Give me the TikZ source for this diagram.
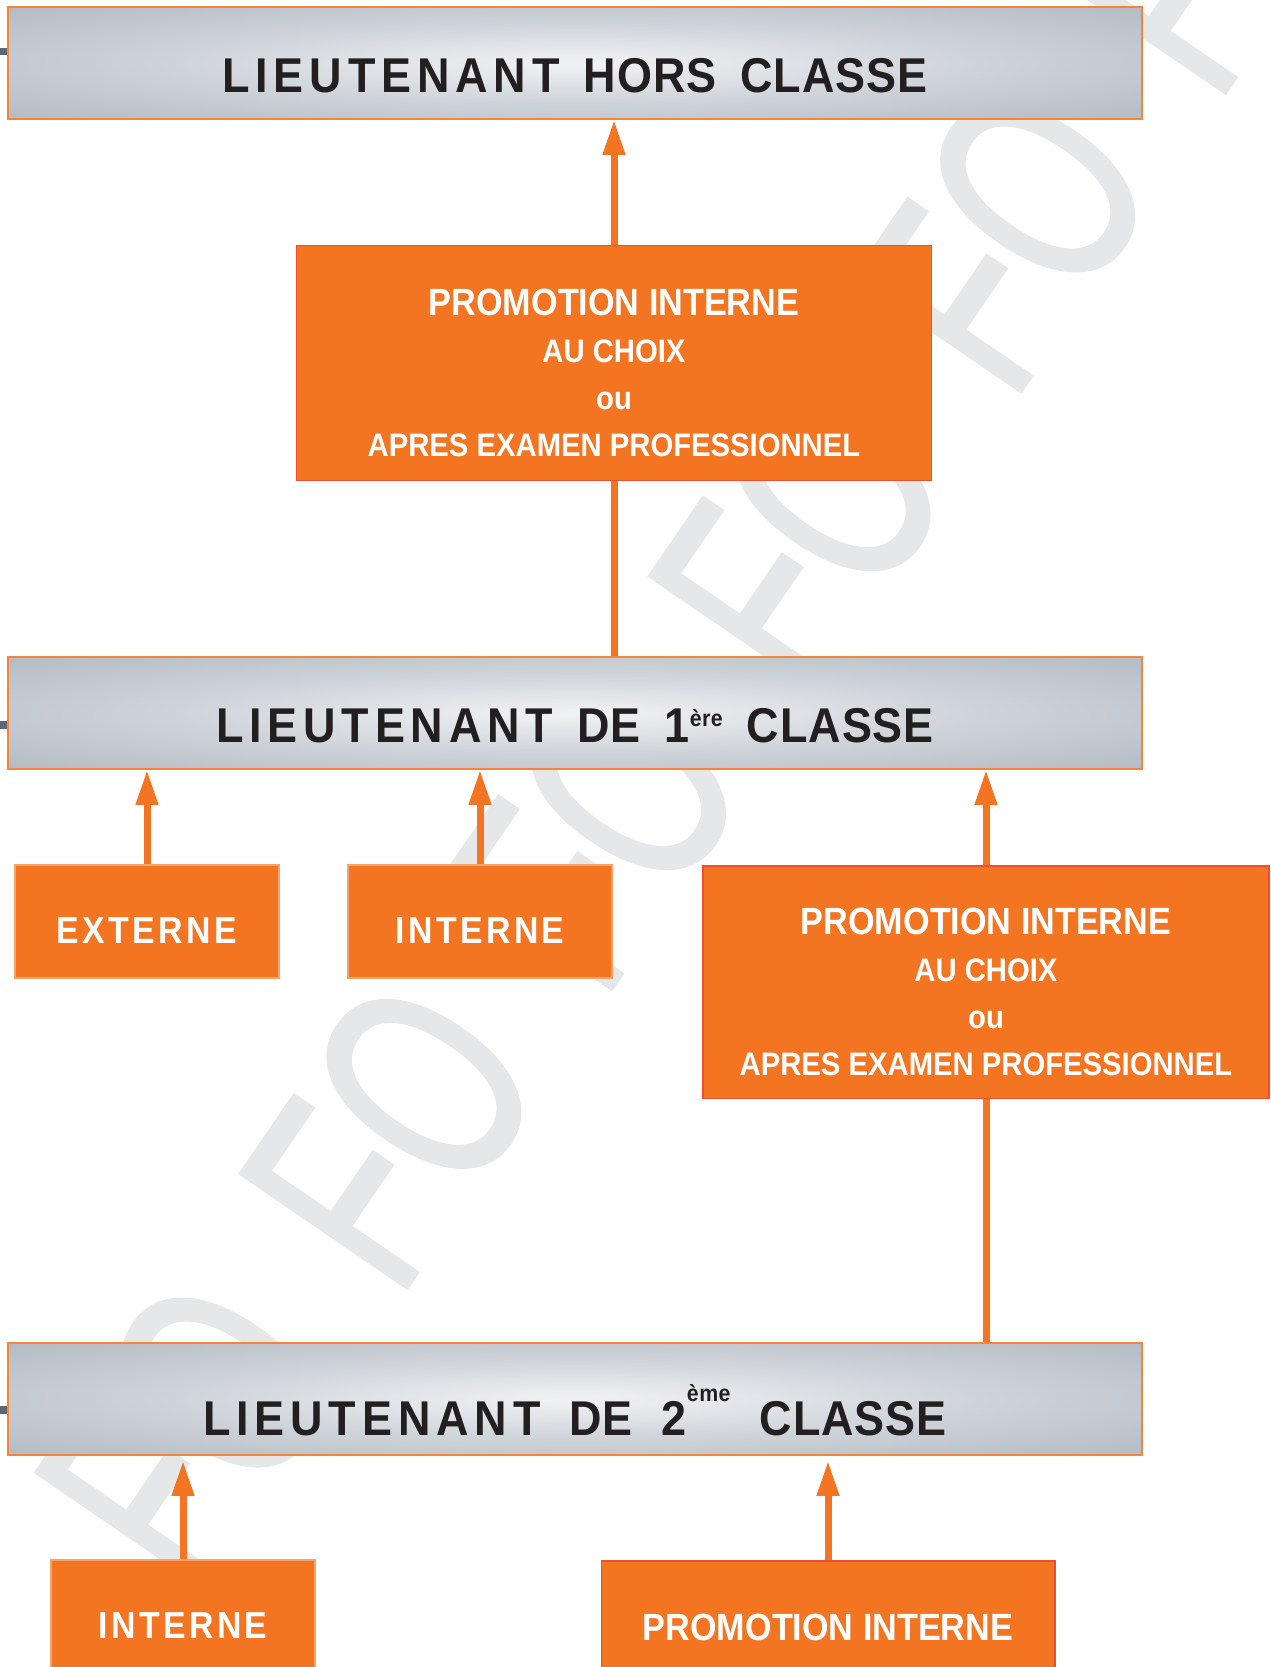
\documentclass[tikz,border=0pt]{standalone}
\usepackage{fontspec}
\setmainfont{Liberation Sans}
\newfontfamily\barfont[FakeStretch=0.92,LetterSpace=2]{Liberation Sans}
\newfontfamily\boxfont[FakeStretch=0.9]{Liberation Sans}
\newfontfamily\tagfont[FakeStretch=0.9,LetterSpace=9]{Liberation Sans}
\newfontfamily\wmfont[FakeStretch=0.66,FakeBold=1.3]{Liberation Sans}
\usetikzlibrary{arrows.meta}

\definecolor{vivid}{HTML}{F37421}
\definecolor{ember}{HTML}{EF4E30}
\definecolor{pale}{HTML}{F9A36A}
\definecolor{barline}{HTML}{F6853A}
\definecolor{ink}{HTML}{231F20}
\definecolor{slate}{HTML}{5C6873}
\definecolor{ghost}{HTML}{E6E7E8}
\definecolor{metalA}{HTML}{F1F2F4}
\definecolor{metalB}{HTML}{CED3D9}
\definecolor{metalC}{HTML}{B4BAC3}
\definecolor{metalD}{HTML}{A6ACB6}
\definecolor{metalE}{HTML}{949BA6}
\pgfdeclareradialshading{metal}{\pgfpoint{0bp}{0bp}}{color(0bp)=(metalA);
  color(18bp)=(metalB); color(36bp)=(metalC); color(50bp)=(metalD);
  color(72bp)=(metalE)}

\newcommand{\espace}[1]{{\addfontfeature{LetterSpace=12}#1}}
\newcommand{\exposant}[2]{\raisebox{#1}{\fontsize{6.6pt}{7pt}\selectfont #2}}
\newcommand{\lead}{\fontsize{10.8pt}{0.47cm}\selectfont\rule{0pt}{0.47cm}}

\tikzset{ grade/.style = { rectangle
                         , draw         = barline
                         , line width   = 0.015cm
                         , shading      = metal
                         , minimum width  = 11.34cm
                         , minimum height = 1.12cm
                         , inner sep    = 0pt
                         , text         = ink
                         , font = {\barfont\bfseries\fontsize{13.9pt}{16pt}\selectfont\spaceskip=0.24cm\relax}
                         , execute at begin node = \rule{0pt}{0.59cm}
                         },
           voie/.style = { rectangle
                         , fill         = vivid
                         , draw         = ember
                         , line width   = 0.015cm
                         , text         = white
                         , align        = center
                         , inner sep    = 0pt
                         , font = \boxfont\bfseries\fontsize{9.25pt}{0.47cm}\selectfont
                         , execute at begin node = \rule{0pt}{0.44cm}
                         },
            tag/.style = { voie
                         , draw         = pale
                         , minimum width  = 2.64cm
                         , minimum height = 1.13cm
                         , font = \tagfont\bfseries\fontsize{10.7pt}{12pt}\selectfont
                         },
      filigrane/.style = { inner sep    = 0pt
                         , text         = ghost
                         , anchor       = base west
                         , rotate       = 55.6
                         , font = {\wmfont\fontsize{83.4pt}{90pt}\selectfont\spaceskip=0.934cm\relax}
                         }
          }

\begin{document}
\begin{tikzpicture}
    [fleche/.style={draw=vivid, line width=0.07cm,
                    -{Triangle[length=0.35cm, width=0.21cm]}},
     trait/.style={draw=vivid, line width=0.07cm},
     talon/.style={draw=slate, line width=0.075cm}]
    \useasboundingbox (0,0) rectangle (12.71,-16.67);
    \clip (0,0) rectangle (12.71,-16.67);

    % filigrane
    \node[filigrane] (fo) at (1.933,-15.998) {FO FO FO FO FO FO};

    % grades
    \coordinate (s1) at (0,-0.515);
    \coordinate (s2) at (0,-7.25);
    \coordinate (s3) at (0,-14.10);
    \node[grade] (hc) at (5.75,-0.63) {\espace{LIEUTENANT} HORS CLASSE};
    \node[grade] (l1) at (5.75,-7.13)
        {\espace{LIEUTENANT} DE 1\exposant{0.16cm}{ère} CLASSE};
    \node[grade, execute at begin node=\rule{0pt}{0.74cm}] (l2) at (5.75,-13.99)
        {\spaceskip=0.29cm\relax\espace{LIEUTENANT} DE 2\exposant{0.34cm}{ème} CLASSE};
    \draw[talon] (s1) -- (s1 -| hc.west);
    \draw[talon] (s2) -- (s2 -| l1.west);
    \draw[talon] (s3) -- (s3 -| l2.west);

    % voies d'acces
    \node[voie, minimum width=6.35cm, minimum height=2.35cm] (p1) at (6.14,-3.63)
        {{\lead PROMOTION INTERNE}\\AU CHOIX\\ou\\APRES EXAMEN PROFESSIONNEL};
    \node[tag] (ext) at (1.47,-9.215) {EXTERNE};
    \node[tag] (int) at (4.80,-9.215) {INTERNE};
    \node[voie, minimum width=5.66cm, minimum height=2.325cm] (p2) at (9.86,-9.82)
        {{\lead PROMOTION INTERNE}\\AU CHOIX\\ou\\APRES EXAMEN PROFESSIONNEL};
    \node[tag] (int2) at (1.83,-16.165) {INTERNE};
    \node[voie, minimum width=4.535cm, minimum height=1.13cm] (p3) at (8.28,-16.175)
        {\lead PROMOTION INTERNE};

    % liens
    \draw[fleche] (p1.north) -- (p1.north |- hc.south);
    \draw[trait]  (p1.south) -- (p1.south |- l1.north);
    \draw[fleche] (ext.north) -- (ext.north |- l1.south);
    \draw[fleche] (int.north) -- (int.north |- l1.south);
    \draw[fleche] (p2.north) -- (p2.north |- l1.south);
    \draw[trait]  (p2.south) -- (p2.south |- l2.north);
    \draw[fleche, shorten >=0.05cm] (int2.north) -- (int2.north |- l2.south);
    \draw[fleche, shorten >=0.05cm] (p3.north) -- (p3.north |- l2.south);
\end{tikzpicture}
\end{document}
